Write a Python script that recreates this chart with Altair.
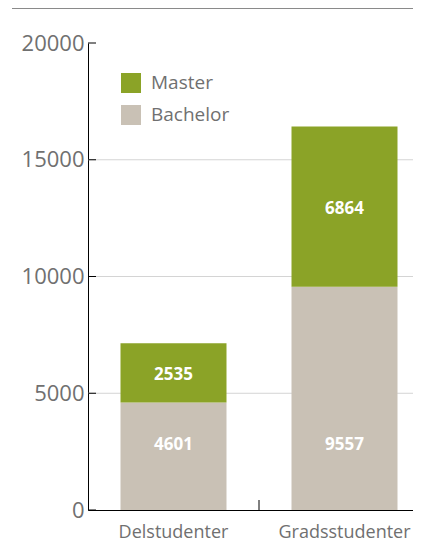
import altair as alt
import pandas as pd

categories = ["Delstudenter", "Gradsstudenter"]
bachelor = [4601, 9557]
master = [2535, 6864]
series = ["Master", "Bachelor"]
colors = ["#8ba327", "#c9c1b5"]
y_ticks = [0, 5000, 10000, 15000, 20000]
grid_vals = [5000, 10000, 15000]

rows = []
for c, b, m in zip(categories, bachelor, master):
    rows.append({"cat": c, "type": "Bachelor", "value": b, "start": 0, "end": b, "mid": b / 2})
    rows.append({"cat": c, "type": "Master", "value": m, "start": b, "end": b + m, "mid": b + m / 2})
df = pd.DataFrame(rows)

W, H = 325, 467
FONT = "Open Sans"
LABEL = "#707070"

xscale = alt.Scale(paddingInner=0, paddingOuter=0, range=[0, 342])
yscale = alt.Scale(domain=[0, 20000], nice=False)
xaxis = alt.Axis(title=None, labelAngle=0, ticks=False, domainColor="black", domainWidth=1,
                 labelFontSize=18, labelColor=LABEL, labelFont=FONT, labelPadding=13)
yaxis = alt.Axis(title=None, values=y_ticks, format="d", grid=False, ticks=False,
                 domainColor="black", domainWidth=1, labelFontSize=22, labelColor=LABEL,
                 labelFont=FONT, labelPadding=4)


def X(field, **kw):
    return alt.X(field, scale=xscale, sort=categories, axis=xaxis, **kw)


def Y(field):
    return alt.Y(field, scale=yscale, axis=yaxis)


base = alt.Chart(df)

grid = alt.Chart(pd.DataFrame({"v": grid_vals})).mark_rule(color="#d4d4d4", strokeWidth=1).encode(
    y=Y("v:Q"), x=alt.value(0), x2=alt.value(342)
)

bars = base.mark_bar(size=106).encode(
    x=X("cat:N"),
    y=Y("start:Q"),
    y2="end:Q",
    color=alt.Color("type:N", scale=alt.Scale(domain=series, range=colors),
                    legend=alt.Legend(title=None, orient="none", legendX=33, legendY=30, padding=0,
                                      symbolType="square", symbolSize=400, symbolStrokeWidth=0,
                                      labelFontSize=19, labelColor=LABEL, labelFont=FONT,
                                      rowPadding=12, labelOffset=10, symbolOpacity=1)),
)

ticks = alt.Chart(pd.DataFrame({"v": y_ticks})).mark_rule(color="black", strokeWidth=1).encode(
    y=Y("v:Q"), x=alt.value(0), x2=alt.value(8)
)

xtick = alt.Chart(pd.DataFrame({"cat": categories[1:]})).mark_rule(color="black", strokeWidth=1).encode(
    x=X("cat:N", bandPosition=0),
    y=alt.value(H - 10), y2=alt.value(H)
)

master_txt = base.transform_filter(alt.datum.type == "Master").mark_text(
    color="white", fontSize=17, fontWeight="bold", font=FONT, baseline="middle", dy=2
).encode(
    x=X("cat:N"),
    y=Y("mid:Q"),
    text=alt.Text("value:Q", format="d"),
)

bach_txt = base.transform_filter(alt.datum.type == "Bachelor").mark_text(
    color="white", fontSize=17, fontWeight="bold", font=FONT, baseline="middle", dy=-65
).encode(
    x=X("cat:N"),
    y=Y("start:Q"),
    text=alt.Text("value:Q", format="d"),
)

top_rule = alt.Chart(pd.DataFrame({"a": [0]})).mark_rule(color="#8a8a8a", strokeWidth=1).encode(
    x=alt.value(-76), x2=alt.value(342), y=alt.value(-34.5)
)

chart = alt.layer(grid, bars, ticks, xtick, master_txt, bach_txt, top_rule).properties(
    width=W, height=H,
    autosize=alt.AutoSizeParams(type="none"),
    padding={"left": 80, "top": 35, "right": 0, "bottom": 45},
).configure_view(stroke=None)

chart.save("out.html", embed_options={"renderer": "svg", "actions": False})
